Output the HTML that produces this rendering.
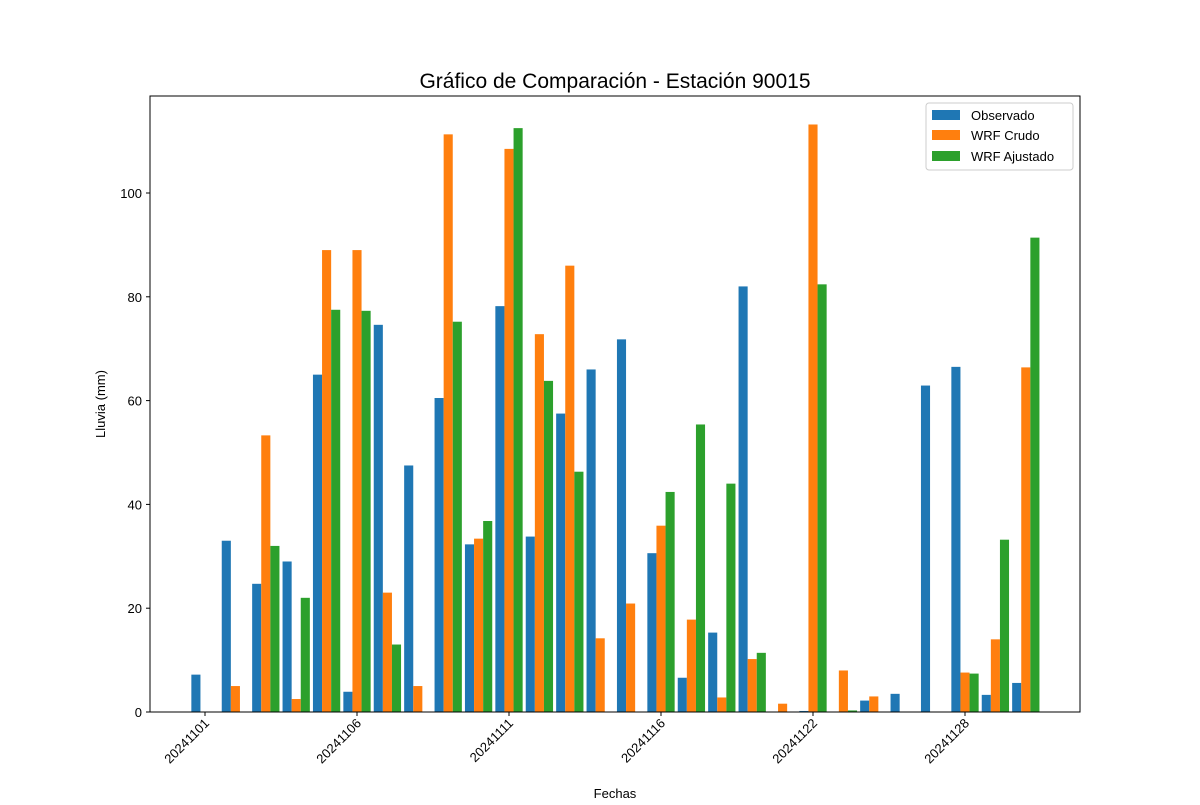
<!DOCTYPE html>
<html><head><meta charset="utf-8"><style>
body{margin:0;background:#fff;font-family:"Liberation Sans","DejaVu Sans",sans-serif;}
</style></head><body>
<svg id="chart" width="1200" height="800" xmlns="http://www.w3.org/2000/svg" font-family="Liberation Sans, DejaVu Sans, sans-serif">
<text x="615" y="88" text-anchor="middle" font-size="21">Gráfico de Comparación - Estación 90015</text>
<g id="bars"></g>
<g id="axes"></g>
<rect x="150" y="96" width="930" height="616" fill="none" stroke="#000" stroke-width="1"/>
<text x="615" y="798" text-anchor="middle" font-size="13">Fechas</text>
<text transform="translate(105,404) rotate(-90)" text-anchor="middle" font-size="13">Lluvia (mm)</text>
<g>
<rect x="926" y="103" width="147" height="67" fill="#fff" stroke="#ccc" rx="3"/>
<g><rect x="932" y="110" width="28" height="10" fill="#1f77b4"/><text x="971" y="120" font-size="13">Observado</text></g>
<g><rect x="932" y="130" width="28" height="10" fill="#ff7f0e"/><text x="971" y="140" font-size="13">WRF Crudo</text></g>
<g><rect x="932" y="151" width="28" height="10" fill="#2ca02c"/><text x="971" y="161" font-size="13">WRF Ajustado</text></g>
</g>
</svg>
<script>
const dates=["20241101","20241102","20241103","20241104","20241105","20241106","20241107","20241108","20241109","20241110","20241111","20241112","20241113","20241114","20241115","20241116","20241117","20241118","20241119","20241120","20241122","20241123","20241124","20241125","20241126","20241128","20241129","20241130"];
const observado=[7.2,33,24.7,29,65,3.9,74.6,47.5,60.5,32.3,78.2,33.8,57.5,66,71.8,30.6,6.6,15.3,82,0,0.2,0,2.2,3.5,62.9,66.5,3.3,5.6];
const wrfCrudo=[0,5,53.3,2.5,89,89,23,5,111.3,33.4,108.5,72.8,86,14.2,20.9,35.9,17.8,2.8,10.2,1.6,113.2,8,3,0,0,7.6,14,66.4];
const wrfAjustado=[0,0,32,22,77.5,77.3,13,0,75.2,36.8,112.5,63.8,46.3,0,0,42.4,55.4,44,11.4,0,82.4,0.3,0,0,0,7.4,33.2,91.4];
const yTicks=[0,20,40,60,80,100];
const NS="http://www.w3.org/2000/svg";
const x=i=>205+30.4*i;
const y=v=>712-5.19*v;
const bw=9.1;
const bars=document.getElementById('bars');
const series=[[observado,"#1f77b4",-1,"observado"],[wrfCrudo,"#ff7f0e",0,"wrf-crudo"],[wrfAjustado,"#2ca02c",1,"wrf-ajustado"]];
series.forEach(([arr,col,off,nm])=>{
 arr.forEach((v,i)=>{
  const r=document.createElementNS(NS,'rect');
  
  
  r.setAttribute('x',x(i)+off*bw-bw/2);
  r.setAttribute('y',y(v));
  r.setAttribute('width',bw);
  r.setAttribute('height',y(0)-y(v));
  r.setAttribute('fill',col);
  bars.appendChild(r);
 });
});
const axes=document.getElementById('axes');
yTicks.forEach(t=>{
 const l=document.createElementNS(NS,'line');
 
 
 l.setAttribute('x1',146);l.setAttribute('x2',150);l.setAttribute('y1',y(t));l.setAttribute('y2',y(t));l.setAttribute('stroke','#000');
 axes.appendChild(l);
 const tx=document.createElementNS(NS,'text');
 
 
 tx.setAttribute('x',142);tx.setAttribute('y',y(t)+5);tx.setAttribute('text-anchor','end');tx.setAttribute('font-size','13');
 tx.textContent=t;axes.appendChild(tx);
});
dates.forEach((d,i)=>{
 if(i%5!==0)return;
 const l=document.createElementNS(NS,'line');
 
 
 l.setAttribute('x1',x(i));l.setAttribute('x2',x(i));l.setAttribute('y1',712);l.setAttribute('y2',716);l.setAttribute('stroke','#000');
 axes.appendChild(l);
 const tx=document.createElementNS(NS,'text');
 
 
 tx.setAttribute('font-size','13');tx.setAttribute('text-anchor','end');
 tx.setAttribute('transform','translate('+(x(i)+5)+',724) rotate(-45)');
 tx.textContent=d;axes.appendChild(tx);
});
</script>
</body></html>
